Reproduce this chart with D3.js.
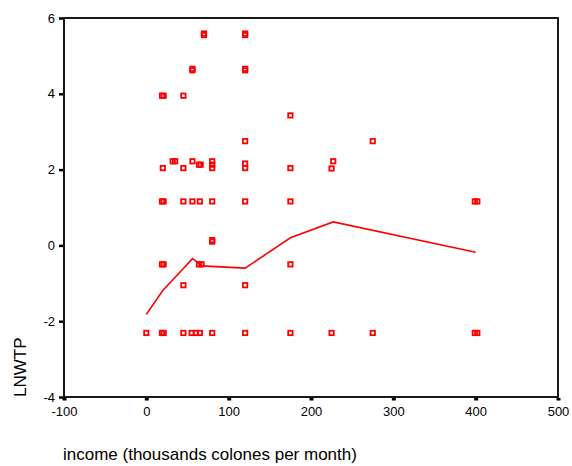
<!DOCTYPE html>
<html>
<head>
<meta charset="utf-8">
<script src="https://cdn.jsdelivr.net/npm/d3@7"></script>
<style>
  body { margin: 0; background: #fff; }
</style>
</head>
<body>
<div id="chart"></div>
<script>
// observed cases: income (thousands colones / month) and ln(WTP)
var income = [
  70, 70, 120, 120,
  56, 56, 120, 120,
  19, 21, 45,
  175,
  120, 275,
  32, 35, 56, 80, 227,
  64, 66, 80, 120,
  20, 45, 80, 120, 175, 225,
  19, 21, 45, 56, 65, 80, 120, 175, 399, 402,
  80, 80,
  19, 21, 64, 67, 175,
  45, 120,
  0, 19, 21, 45, 55, 60, 65, 80, 120, 175, 225, 275, 399, 402
];
var lnwtp = [
  5.55, 5.59, 5.55, 5.59,
  4.62, 4.66, 4.62, 4.66,
  3.95, 3.95, 3.95,
  3.43,
  2.75, 2.75,
  2.22, 2.22, 2.22, 2.22, 2.22,
  2.13, 2.13, 2.13, 2.16,
  2.04, 2.04, 2.04, 2.04, 2.04, 2.03,
  1.16, 1.16, 1.16, 1.16, 1.16, 1.16, 1.16, 1.16, 1.16, 1.16,
  0.10, 0.14,
  -0.50, -0.50, -0.50, -0.50, -0.50,
  -1.05, -1.05,
  -2.31, -2.31, -2.31, -2.31, -2.31, -2.31, -2.31, -2.31, -2.31, -2.31, -2.31, -2.31, -2.31, -2.31
];

// fit line
var fitIncome = [0, 20, 45, 56, 62, 67, 120, 175, 227, 400];
var fitLnwtp = [-1.82, -1.19, -0.61, -0.35, -0.44, -0.54, -0.60, 0.20, 0.62, -0.18];

var xTicks = [-100, 0, 100, 200, 300, 400, 500];
var yTicks = [-4, -2, 0, 2, 4, 6];

var xTitle = "income (thousands colones per month)";
var yTitle = "LNWTP";

function renderScatter() {
  var attrs = {
    svgWidth: 572,
    svgHeight: 466,
    marginLeft: 64,
    marginTop: 18,
    marginRight: 14,
    marginBottom: 69,
    red: "#ff0000",
    font: "'Liberation Sans', Arial, sans-serif"
  };

  var calc = {};
  calc.width = attrs.svgWidth - attrs.marginLeft - attrs.marginRight;
  calc.height = attrs.svgHeight - attrs.marginTop - attrs.marginBottom;

  var x = d3.scaleLinear().domain([-100, 500]).range([0, calc.width]);
  var y = d3.scaleLinear().domain([-4, 6]).range([calc.height, 0]);

  // plain hyphen for negatives, like the original
  var plain = function (d) { return String(d); };

  var svg = d3.select("#chart").append("svg")
    .attr("width", attrs.svgWidth)
    .attr("height", attrs.svgHeight)
    .attr("font-family", attrs.font);

  var chart = svg.append("g")
    .attr("transform", "translate(" + attrs.marginLeft + "," + attrs.marginTop + ")");

  // frame
  chart.append("rect")
    .attr("width", calc.width)
    .attr("height", calc.height)
    .attr("fill", "none")
    .attr("stroke", "#000")
    .attr("stroke-width", 1.8);

  // x axis ticks + labels
  var xAxis = d3.axisBottom(x).tickValues(xTicks).tickFormat(plain).tickSize(0).tickPadding(10);
  var gx = chart.append("g")
    .attr("transform", "translate(0," + calc.height + ")")
    .call(xAxis);
  gx.select(".domain").remove();
  gx.selectAll("text").attr("font-size", 13).attr("fill", "#000");
  gx.selectAll(".tick").append("rect")
    .attr("x", -2).attr("y", 1).attr("width", 4).attr("height", 2.5)
    .attr("fill", "#000");

  // y axis ticks + labels
  var yAxis = d3.axisLeft(y).tickValues(yTicks).tickFormat(plain).tickSize(0).tickPadding(9);
  var gy = chart.append("g").call(yAxis);
  gy.select(".domain").remove();
  gy.selectAll("text").attr("font-size", 13).attr("fill", "#000");
  gy.selectAll(".tick").append("rect")
    .attr("x", -5).attr("y", -1.25).attr("width", 4).attr("height", 2.5)
    .attr("fill", "#000");

  // fit line
  var line = d3.line()
    .x(function (d) { return x(d[0]); })
    .y(function (d) { return y(d[1]); });
  chart.append("path")
    .datum(d3.zip(fitIncome, fitLnwtp))
    .attr("d", line)
    .attr("fill", "none")
    .attr("stroke", attrs.red)
    .attr("stroke-width", 1.6);

  // points
  chart.selectAll(".pt")
    .data(d3.zip(income, lnwtp))
    .enter().append("rect")
    .attr("class", "pt")
    .attr("x", function (d) { return x(d[0]) - 2.2; })
    .attr("y", function (d) { return y(d[1]) - 2.2; })
    .attr("width", 4.4)
    .attr("height", 4.4)
    .attr("fill", "none")
    .attr("stroke", attrs.red)
    .attr("stroke-width", 1.8);

  // titles
  svg.append("text")
    .attr("transform", "translate(26,397) rotate(-90)")
    .attr("font-size", 17)
    .attr("fill", "#000")
    .text(yTitle);

  svg.append("text")
    .attr("x", 63)
    .attr("y", 460)
    .attr("font-size", 17)
    .attr("fill", "#000")
    .text(xTitle);
}

renderScatter();
</script>
</body>
</html>
